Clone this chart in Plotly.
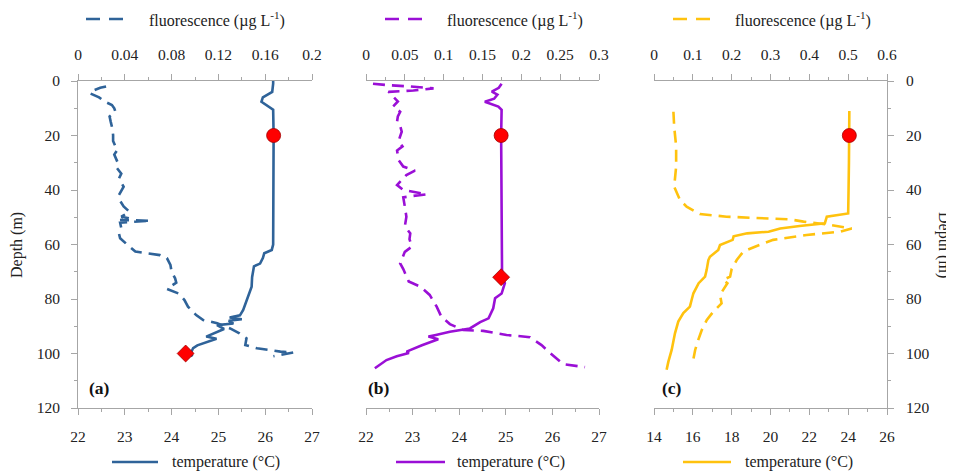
import plotly.graph_objects as go

# ---------------- data ----------------
# Panel (a)
depth_temp_a = [0, 1, 4, 6, 7.6, 9, 10.5, 20, 40, 60, 62, 63.2, 65, 67, 68, 72, 75.5, 79, 84, 86,
                86.8, 87.4, 88, 89, 89.6, 91, 92.6, 93.8, 94.6, 96.3, 97, 98, 99.5, 100.3, 101]
temp_a = [26.17, 26.17, 26.15, 25.95, 25.92, 26.05, 26.17, 26.18, 26.18, 26.17, 26.14, 25.98, 25.95,
          25.89, 25.76, 25.72, 25.71, 25.64, 25.53, 25.46, 25.24, 25.5, 25.22, 25.32, 24.97, 25.12,
          24.88, 24.74, 24.96, 24.66, 24.55, 24.46, 24.42, 24.4, 24.45]
depth_fl_a = [2, 2.5, 3.5, 4.5, 6, 7.6, 8.8, 10, 11.3, 13, 15, 16.8, 19.8, 22, 24, 25, 27, 30, 31.8,
              34, 35.8, 38.8, 41.8, 44, 46, 48, 49.8, 50.4, 51, 51.3, 52, 54, 56, 57.7, 60, 62.6,
              63.3, 63.9, 65, 67.5, 70, 72.4, 74, 76.3, 78, 80.4, 82.8, 85.9, 87.7, 88.9, 90.8,
              92.6, 94.4, 96.9, 98.1, 98.7, 99.3, 99.6, 100.2, 101]
fl_a = [0.024, 0.019, 0.013, 0.010, 0.018, 0.023, 0.029, 0.031, 0.032, 0.027, 0.028, 0.029, 0.030,
        0.030, 0.032, 0.034, 0.031, 0.034, 0.033, 0.037, 0.035, 0.039, 0.035, 0.036, 0.039, 0.044,
        0.037, 0.044, 0.036, 0.062, 0.036, 0.037, 0.035, 0.036, 0.042, 0.049, 0.060, 0.070, 0.076,
        0.079, 0.080, 0.083, 0.084, 0.076, 0.086, 0.091, 0.094, 0.101, 0.107, 0.119, 0.130, 0.138,
        0.144, 0.143, 0.153, 0.163, 0.173, 0.184, 0.176, 0.167]
circle_a = (26.18, 20)
diamond_a = (24.3, 100)

# Panel (b)
depth_temp_b = [1, 2.5, 3.9, 5, 6.5, 7.6, 9.4, 10.6, 20, 40, 60, 70.6, 72, 74.2, 76, 78, 79.7, 83.4,
                87.1, 88.5, 90.8, 92, 93.2, 93.8, 94.8, 95.6, 97, 99.3, 99.8, 101, 102.4, 105.4]
temp_b = [24.91, 24.85, 24.70, 24.82, 24.75, 24.55, 24.84, 24.91, 24.90, 24.91, 24.92, 24.93, 24.92,
          24.98, 24.95, 24.91, 24.77, 24.73, 24.63, 24.45, 24.23, 23.80, 23.5, 23.34, 23.55, 23.41,
          23.2, 22.87, 22.92, 22.66, 22.44, 22.19]
depth_fl_b = [1, 1.5, 2, 2.7, 3.2, 3.5, 4, 5.7, 7.5, 9.3, 11.3, 13, 14.9, 16.5, 18.6, 22, 24, 25.5,
              29, 31.4, 32.9, 34.5, 38.2, 40, 41.6, 42.2, 42.7, 46.1, 49.8, 53.4, 55.9, 58, 60.8,
              62.7, 66.9, 69, 73.6, 75.5, 78.5, 82.8, 86.5, 89.2, 91.4, 91.7, 93.2, 94, 96.9, 99.3,
              103.9, 105]
fl_b = [0.009, 0.027, 0.057, 0.087, 0.070, 0.061, 0.029, 0.035, 0.041, 0.035, 0.044, 0.041, 0.040,
        0.044, 0.046, 0.042, 0.047, 0.040, 0.042, 0.048, 0.063, 0.052, 0.040, 0.048, 0.078, 0.060,
        0.048, 0.050, 0.052, 0.050, 0.057, 0.056, 0.059, 0.050, 0.044, 0.048, 0.055, 0.070, 0.082,
        0.091, 0.097, 0.108, 0.125, 0.151, 0.181, 0.211, 0.226, 0.235, 0.254, 0.282]
circle_b = (24.9, 20)
diamond_b = (24.9, 72)

# Panel (c)
depth_temp_c = [11, 20, 30, 40, 48.6, 49.8, 51, 52.2, 53.2, 54.1, 55.3, 55.9, 57, 58.3, 60.2, 62,
                64.5, 65.7, 69.4, 71.8, 74.2, 77.9, 80, 82.8, 85.2, 88.3, 92.6, 98.7, 103, 106]
temp_c = [24.06, 24.06, 24.04, 24.02, 24.0, 22.9, 22.85, 22.8, 21.5, 20.5, 19.9, 18.8, 18.1, 18.05,
          17.4, 17.31, 16.88, 16.8, 16.71, 16.63, 16.3, 16.03, 15.95, 15.85, 15.51, 15.25, 15.08,
          14.91, 14.74, 14.65]
depth_fl_c = [11.3, 16.8, 24, 31.4, 38.8, 43.7, 46.1, 48.8, 49.8, 50.4, 50.8, 51.6, 52.8, 54.1, 55.3,
              56.5, 58.3, 60.8, 62.6, 65.7, 69, 71.8, 73, 74.2, 78.5, 81.6, 84.6, 87.7, 91.4, 95,
              98.7, 102.4]
fl_c = [0.050, 0.052, 0.057, 0.057, 0.052, 0.067, 0.084, 0.118, 0.187, 0.264, 0.350, 0.385, 0.453,
        0.509, 0.479, 0.393, 0.307, 0.260, 0.230, 0.213, 0.200, 0.196, 0.178, 0.189, 0.170, 0.174,
        0.153, 0.136, 0.123, 0.114, 0.106, 0.101]
circle_c = (24.06, 20)

colors = ["#2f6399", "#9a0fd6", "#ffc20e"]
panel_labels = ["(a)", "(b)", "(c)"]
fl_label = "fluorescence (µg L<sup>-1</sup>)"
temp_label = "temperature (°C)"
depth_label = "Depth (m)"

# ---------------- figure ----------------
# the page body has an 8px margin, so the figure is made 8px smaller and
# reference pixel positions are shifted by 8px
OFF = 8
W, H = 954 - OFF, 471 - OFF
fig = go.Figure()

def px_x(p):
    return (p - OFF) / W

def px_y(p):
    return 1 - (p - OFF) / H

LW = 2.6
DASH = "12px,7px"

panels = [
    (depth_temp_a, temp_a, depth_fl_a, fl_a, [circle_a], [diamond_a]),
    (depth_temp_b, temp_b, depth_fl_b, fl_b, [circle_b], [diamond_b]),
    (depth_temp_c, temp_c, depth_fl_c, fl_c, [circle_c], []),
]
for i, (dt, t, df, f, circ, diam) in enumerate(panels):
    xb = "x" if i == 0 else f"x{2*i+1}"
    xt = f"x{2*i+2}"
    ya = "y" if i == 0 else f"y{i+1}"
    fig.add_trace(go.Scatter(x=f, y=df, xaxis=xt, yaxis=ya, mode="lines",
                             line=dict(color=colors[i], width=LW, dash=DASH), showlegend=False))
    fig.add_trace(go.Scatter(x=t, y=dt, xaxis=xb, yaxis=ya, mode="lines",
                             line=dict(color=colors[i], width=LW), showlegend=False))
    if circ:
        fig.add_trace(go.Scatter(x=[c[0] for c in circ], y=[c[1] for c in circ], xaxis=xb, yaxis=ya,
                                 mode="markers", showlegend=False,
                                 marker=dict(symbol="circle", size=14, color="#ff0000",
                                             line=dict(color="#a00000", width=0.8))))
    if diam:
        fig.add_trace(go.Scatter(x=[c[0] for c in diam], y=[c[1] for c in diam], xaxis=xb, yaxis=ya,
                                 mode="markers", showlegend=False,
                                 marker=dict(symbol="diamond", size=13, color="#ff0000",
                                             line=dict(color="#a00000", width=0.8))))

AX = "#a6a6a6"
FONT = dict(family="Liberation Serif", size=15.5, color="#222222")

def xax(domain, rng, dtick, minor, side, overlay=None, anchor="y"):
    d = dict(range=rng, dtick=dtick, tick0=rng[0], showline=True, linecolor=AX, linewidth=1,
             ticks="outside", ticklen=6, tickcolor=AX, tickwidth=1, tickfont=FONT,
             showgrid=False, zeroline=False, side=side, anchor=anchor, fixedrange=True,
             ticklabelstandoff=8, automargin=False,
             minor=dict(ticks="outside", ticklen=3, tickcolor=AX, dtick=minor, showgrid=False))
    if overlay:
        d["overlaying"] = overlay
    else:
        d["domain"] = domain
    return d

doms = [[px_x(78), px_x(312)], [px_x(366), px_x(599)], [px_x(654), px_x(887)]]
ydom = [px_y(408), px_y(81)]

fig.update_layout(
    template="none",
    xaxis=xax(doms[0], [22, 27], 1, 0.5, "bottom", anchor="y"),
    xaxis2=xax(None, [0, 0.2], 0.04, 0.02, "top", overlay="x", anchor="y"),
    xaxis3=xax(doms[1], [22, 27], 1, 0.5, "bottom", anchor="y2"),
    xaxis4=xax(None, [0, 0.3], 0.05, 0.025, "top", overlay="x3", anchor="y2"),
    xaxis5=xax(doms[2], [14, 26], 2, 1, "bottom", anchor="y3"),
    xaxis6=xax(None, [0, 0.6], 0.1, 0.05, "top", overlay="x5", anchor="y3"),
    yaxis=dict(domain=ydom, range=[120, 0], dtick=20, anchor="x", side="left", showline=True,
               linecolor=AX, ticks="outside", ticklen=6, tickcolor=AX, tickfont=FONT,
               showgrid=False, zeroline=False, ticklabelstandoff=8, automargin=False,
               minor=dict(ticks="outside", ticklen=3, tickcolor=AX, dtick=10)),
    yaxis2=dict(domain=ydom, range=[120, 0], anchor="x3", visible=False, automargin=False),
    yaxis3=dict(domain=ydom, range=[120, 0], dtick=20, anchor="x5", side="right", showline=True,
                linecolor=AX, ticks="outside", ticklen=6, tickcolor=AX, tickfont=FONT,
                showgrid=False, zeroline=False, ticklabelstandoff=9, automargin=False,
                minor=dict(ticks="outside", ticklen=3, tickcolor=AX, dtick=10)),
    width=W, height=H, autosize=False,
    margin=dict(l=0, r=0, t=0, b=0, pad=0),
    paper_bgcolor="white", plot_bgcolor="white",
    showlegend=False,
)

annotations = []
shapes = []
LFONT = dict(family="Liberation Serif", size=16, color="#222222")
# legend-like keys: (dash start, dash end, text left) in reference pixels
top_keys = [(86, 123, 147), (385, 422, 445), (673, 712, 733)]
bot_keys = [(112, 158, 170), (396, 445, 455), (683, 731, 743)]
for i in range(3):
    x0, x1, tx = top_keys[i]
    shapes.append(dict(type="line", xref="paper", yref="paper", x0=px_x(x0), x1=px_x(x1),
                       y0=px_y(19), y1=px_y(19),
                       line=dict(color=colors[i], width=LW, dash="14px,9px")))
    annotations.append(dict(text=fl_label, xref="paper", yref="paper", x=px_x(tx), y=px_y(19),
                            xanchor="left", yanchor="middle", showarrow=False, font=LFONT))
    x0, x1, tx = bot_keys[i]
    shapes.append(dict(type="line", xref="paper", yref="paper", x0=px_x(x0), x1=px_x(x1),
                       y0=px_y(462), y1=px_y(462), line=dict(color=colors[i], width=LW)))
    annotations.append(dict(text=temp_label, xref="paper", yref="paper", x=px_x(tx), y=px_y(462),
                            xanchor="left", yanchor="middle", showarrow=False, font=LFONT))

label_x = [99, 379, 672]
for i in range(3):
    annotations.append(dict(text=f"<b>{panel_labels[i]}</b>", xref="paper", yref="paper",
                            x=px_x(label_x[i]), y=px_y(388), xanchor="center", yanchor="middle",
                            showarrow=False,
                            font=dict(family="Liberation Serif", size=17.5, color="#111111")))

annotations.append(dict(text=depth_label, xref="paper", yref="paper", x=px_x(17), y=px_y(245),
                        textangle=-90, xanchor="center", yanchor="middle", showarrow=False,
                        font=dict(family="Liberation Serif", size=16, color="#222222")))
annotations.append(dict(text=depth_label, xref="paper", yref="paper", x=px_x(944), y=px_y(245),
                        textangle=90, xanchor="center", yanchor="middle", showarrow=False,
                        font=dict(family="Liberation Serif", size=16, color="#222222")))

fig.update_layout(annotations=annotations, shapes=shapes)
fig.write_html("out.html")
